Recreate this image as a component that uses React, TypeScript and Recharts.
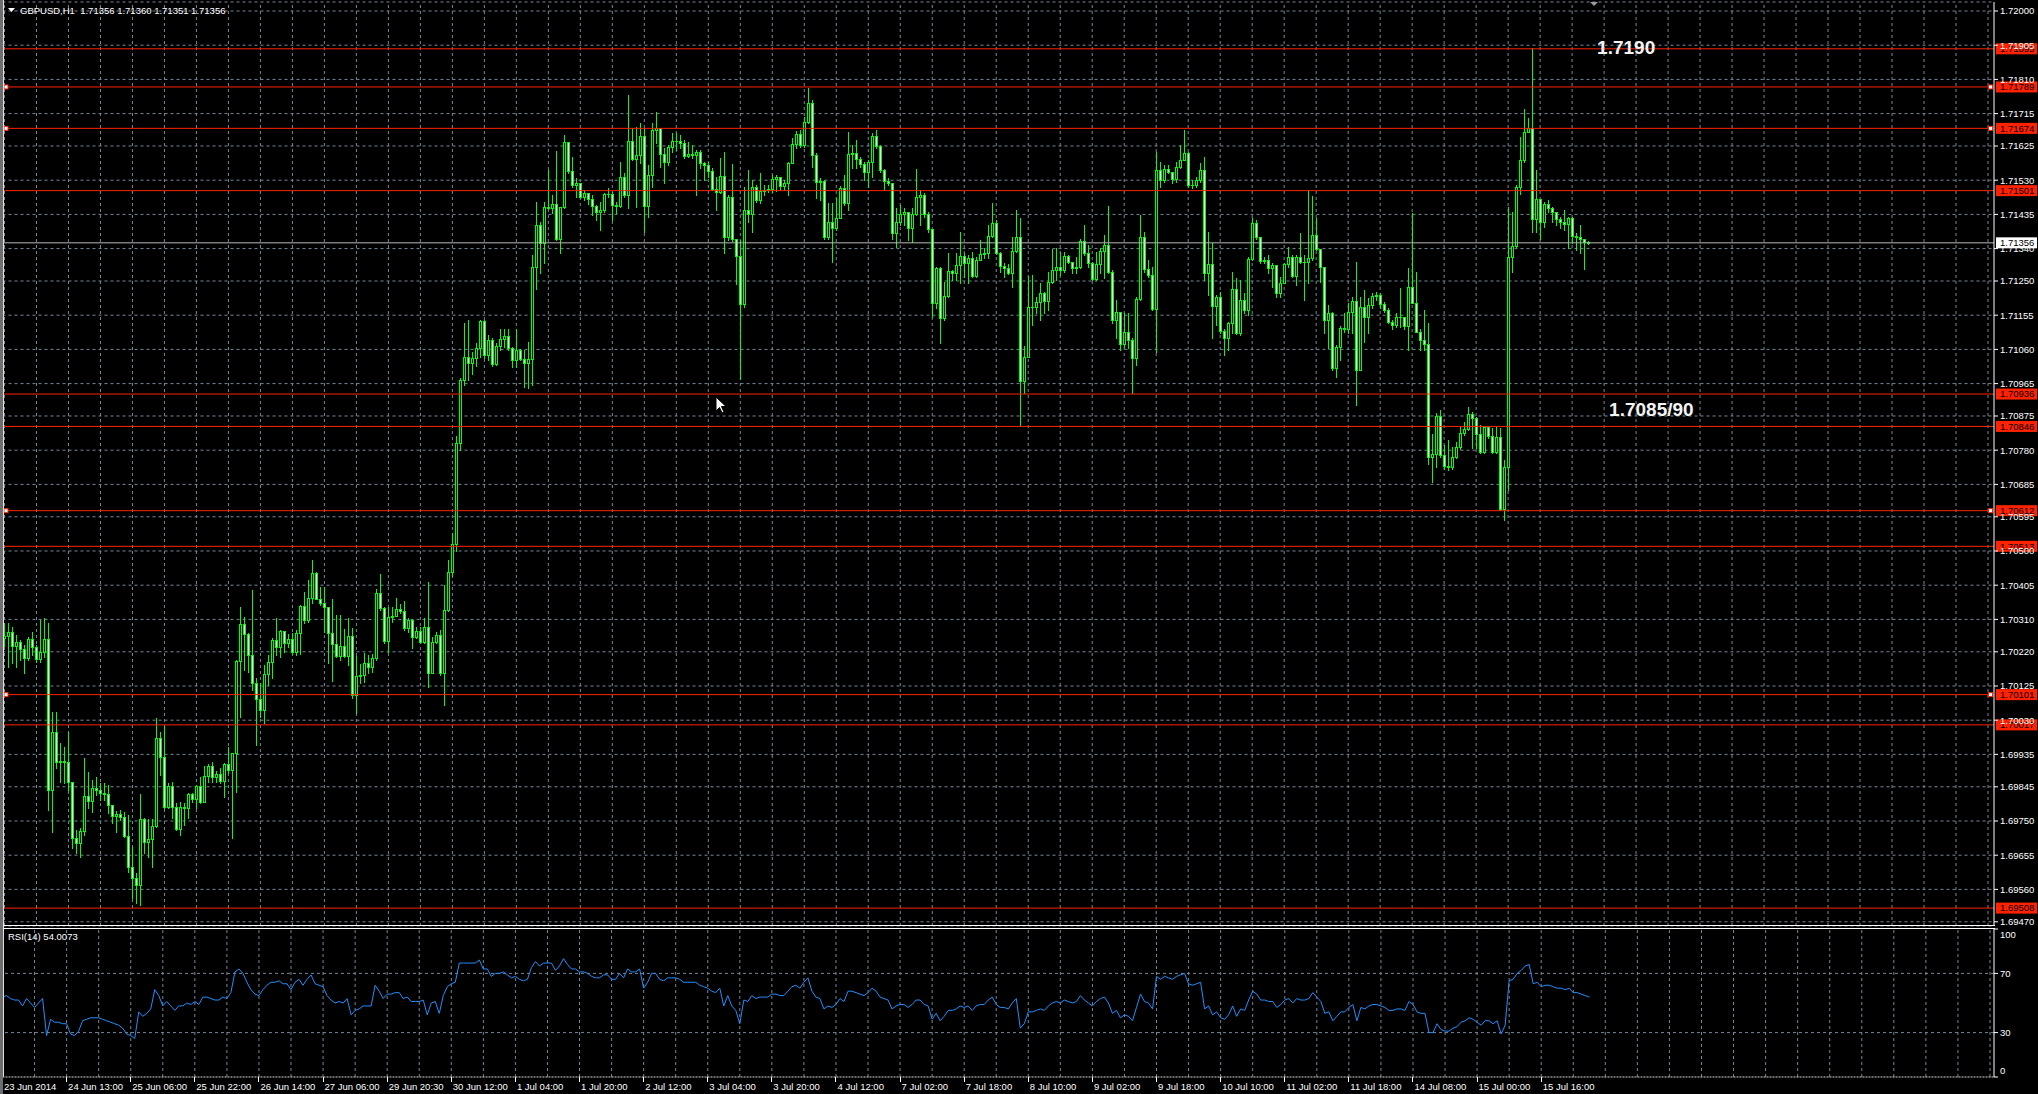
import React from 'react';
import {
    ComposedChart,
    Bar,
    Line,
    XAxis,
    YAxis,
    CartesianGrid,
    ReferenceLine,
    ReferenceDot
} from 'recharts';

const FONT = '"Liberation Sans", Arial, sans-serif';
const GRID = '#778899';
const RED = '#ff2200';
const CANDLE = '#00ff00';

// GBPUSD H1 candles, one per hour
const firstOpen = 1.70258;

const closes = [
    1.70264, 1.70276, 1.70236, 1.70248, 1.70227, 1.70202, 1.70256, 1.70232, 1.70199, 1.70220,
    1.70256, 1.69836, 1.69998, 1.69915, 1.69917, 1.69915, 1.69859, 1.69702, 1.69688, 1.69723,
    1.69819, 1.69806, 1.69841, 1.69836, 1.69829, 1.69824, 1.69794, 1.69764, 1.69769, 1.69762,
    1.69708, 1.69623, 1.69591, 1.69572, 1.69755, 1.69693, 1.69699, 1.69737, 1.69980, 1.69927,
    1.69790, 1.69847, 1.69790, 1.69727, 1.69788, 1.69785, 1.69825, 1.69810, 1.69848, 1.69804,
    1.69875, 1.69904, 1.69873, 1.69881, 1.69862, 1.69907, 1.69892, 1.69938, 1.70194, 1.70296,
    1.70269, 1.70211, 1.70132, 1.70088, 1.70058, 1.70157, 1.70193, 1.70253, 1.70234, 1.70278,
    1.70244, 1.70256, 1.70220, 1.70273, 1.70347, 1.70308, 1.70369, 1.70438, 1.70367, 1.70355,
    1.70345, 1.70273, 1.70242, 1.70208, 1.70236, 1.70208, 1.70264, 1.70100, 1.70153, 1.70156,
    1.70190, 1.70177, 1.70202, 1.70384, 1.70341, 1.70250, 1.70318, 1.70320, 1.70338, 1.70334,
    1.70285, 1.70308, 1.70260, 1.70279, 1.70248, 1.70290, 1.70162, 1.70248, 1.70267, 1.70162,
    1.70336, 1.70441, 1.70520, 1.70800, 1.70975, 1.71038, 1.71023, 1.71035, 1.71063, 1.71140,
    1.71045, 1.71086, 1.71020, 1.71070, 1.71090, 1.71098, 1.71063, 1.71030, 1.71058, 1.71032,
    1.71023, 1.71034, 1.71290, 1.71405, 1.71355, 1.71456, 1.71454, 1.71463, 1.71366, 1.71455,
    1.71637, 1.71555, 1.71516, 1.71523, 1.71482, 1.71495, 1.71479, 1.71458, 1.71441, 1.71446,
    1.71493, 1.71491, 1.71460, 1.71458, 1.71540, 1.71490, 1.71640, 1.71590, 1.71600, 1.71653,
    1.71458, 1.71544, 1.71669, 1.71674, 1.71603, 1.71581, 1.71623, 1.71640, 1.71639, 1.71634,
    1.71597, 1.71602, 1.71599, 1.71608, 1.71577, 1.71572, 1.71556, 1.71505, 1.71498, 1.71542,
    1.71373, 1.71482, 1.71366, 1.71319, 1.71186, 1.71447, 1.71436, 1.71510, 1.71475, 1.71501,
    1.71503, 1.71506, 1.71532, 1.71538, 1.71514, 1.71521, 1.71577, 1.71630, 1.71657, 1.71628,
    1.71693, 1.71744, 1.71600, 1.71525, 1.71527, 1.71373, 1.71413, 1.71398, 1.71424, 1.71509,
    1.71466, 1.71602, 1.71605, 1.71590, 1.71574, 1.71553, 1.71581, 1.71654, 1.71625, 1.71558,
    1.71528, 1.71523, 1.71382, 1.71415, 1.71436, 1.71442, 1.71396, 1.71436, 1.71484, 1.71489,
    1.71436, 1.71395, 1.71190, 1.71285, 1.71146, 1.71209, 1.71277, 1.71271, 1.71295, 1.71320,
    1.71301, 1.71315, 1.71264, 1.71308, 1.71325, 1.71329, 1.71376, 1.71412, 1.71329, 1.71292,
    1.71285, 1.71273, 1.71334, 1.71371, 1.70972, 1.71040, 1.71179, 1.71179, 1.71193, 1.71216,
    1.71194, 1.71248, 1.71281, 1.71290, 1.71281, 1.71319, 1.71302, 1.71285, 1.71290, 1.71362,
    1.71327, 1.71299, 1.71255, 1.71297, 1.71334, 1.71350, 1.71276, 1.71142, 1.71165, 1.71074,
    1.71107, 1.71086, 1.71035, 1.71200, 1.71371, 1.71282, 1.71267, 1.71171, 1.71557, 1.71531,
    1.71560, 1.71552, 1.71533, 1.71566, 1.71586, 1.71606, 1.71516, 1.71517, 1.71531, 1.71557,
    1.71273, 1.71297, 1.71181, 1.71206, 1.71111, 1.71091, 1.71134, 1.71227, 1.71106, 1.71197,
    1.71170, 1.71312, 1.71412, 1.71373, 1.71306, 1.71309, 1.71287, 1.71294, 1.71218, 1.71245,
    1.71297, 1.71318, 1.71265, 1.71316, 1.71303, 1.71304, 1.71315, 1.71378, 1.71338, 1.71290,
    1.71142, 1.71160, 1.71008, 1.71068, 1.71120, 1.71116, 1.71163, 1.71195, 1.71003, 1.71179,
    1.71151, 1.71183, 1.71208, 1.71211, 1.71186, 1.71170, 1.71135, 1.71128, 1.71151, 1.71149,
    1.71125, 1.71234, 1.71190, 1.71109, 1.71086, 1.71075, 1.70762, 1.70770, 1.70875, 1.70767,
    1.70736, 1.70734, 1.70762, 1.70788, 1.70829, 1.70840, 1.70880, 1.70870, 1.70824, 1.70776,
    1.70844, 1.70820, 1.70776, 1.70816, 1.70618, 1.70732, 1.71318, 1.71348, 1.71512, 1.71586,
    1.71663, 1.71674, 1.71421, 1.71478, 1.71414, 1.71464, 1.71452, 1.71443, 1.71423, 1.71414,
    1.71408, 1.71425, 1.71376, 1.71373, 1.71368, 1.71359, 1.71356
];

const highs = [
    1.70299, 1.70299, 1.70290, 1.70267, 1.70253, 1.70239, 1.70262, 1.70276, 1.70239, 1.70308,
    1.70313, 1.70299, 1.70054, 1.70054, 1.69966, 1.69956, 1.69998, 1.69859, 1.69725, 1.69730,
    1.69924, 1.69887, 1.69864, 1.69873, 1.69856, 1.69856, 1.69850, 1.69788, 1.69779, 1.69781,
    1.69776, 1.69767, 1.69679, 1.69605, 1.69825, 1.69757, 1.69755, 1.69755, 1.70035, 1.69998,
    1.70015, 1.69856, 1.69857, 1.69799, 1.69804, 1.69799, 1.69827, 1.69827, 1.69850, 1.69873,
    1.69904, 1.69908, 1.69915, 1.69889, 1.69896, 1.69910, 1.69956, 1.69938, 1.70197, 1.70345,
    1.70318, 1.70271, 1.70392, 1.70146, 1.70132, 1.70183, 1.70211, 1.70257, 1.70313, 1.70281,
    1.70276, 1.70269, 1.70271, 1.70281, 1.70350, 1.70387, 1.70419, 1.70475, 1.70443, 1.70399,
    1.70401, 1.70345, 1.70368, 1.70322, 1.70322, 1.70282, 1.70313, 1.70285, 1.70208, 1.70185,
    1.70216, 1.70211, 1.70214, 1.70394, 1.70436, 1.70345, 1.70345, 1.70345, 1.70369, 1.70352,
    1.70361, 1.70313, 1.70310, 1.70290, 1.70290, 1.70313, 1.70415, 1.70262, 1.70276, 1.70281,
    1.70406, 1.70475, 1.70550, 1.70820, 1.70980, 1.71132, 1.71142, 1.71052, 1.71077, 1.71143,
    1.71142, 1.71100, 1.71091, 1.71077, 1.71118, 1.71118, 1.71118, 1.71068, 1.71118, 1.71060,
    1.71058, 1.71081, 1.71322, 1.71470, 1.71415, 1.71470, 1.71558, 1.71489, 1.71611, 1.71456,
    1.71655, 1.71637, 1.71595, 1.71535, 1.71519, 1.71503, 1.71489, 1.71489, 1.71461, 1.71470,
    1.71495, 1.71507, 1.71498, 1.71470, 1.71581, 1.71549, 1.71767, 1.71674, 1.71679, 1.71688,
    1.71674, 1.71572, 1.71690, 1.71720, 1.71651, 1.71619, 1.71628, 1.71660, 1.71660, 1.71655,
    1.71642, 1.71637, 1.71628, 1.71614, 1.71614, 1.71581, 1.71581, 1.71563, 1.71540, 1.71591,
    1.71609, 1.71489, 1.71575, 1.71368, 1.71364, 1.71512, 1.71558, 1.71530, 1.71517, 1.71549,
    1.71517, 1.71517, 1.71544, 1.71544, 1.71530, 1.71530, 1.71581, 1.71646, 1.71668, 1.71670,
    1.71706, 1.71785, 1.71753, 1.71605, 1.71535, 1.71530, 1.71466, 1.71466, 1.71480, 1.71514,
    1.71544, 1.71665, 1.71628, 1.71642, 1.71595, 1.71581, 1.71586, 1.71660, 1.71670, 1.71627,
    1.71560, 1.71535, 1.71521, 1.71452, 1.71461, 1.71452, 1.71443, 1.71452, 1.71560, 1.71503,
    1.71494, 1.71443, 1.71393, 1.71290, 1.71290, 1.71248, 1.71329, 1.71280, 1.71327, 1.71387,
    1.71329, 1.71322, 1.71331, 1.71318, 1.71364, 1.71341, 1.71406, 1.71466, 1.71419, 1.71331,
    1.71299, 1.71297, 1.71373, 1.71447, 1.71424, 1.71070, 1.71264, 1.71267, 1.71206, 1.71244,
    1.71220, 1.71276, 1.71338, 1.71341, 1.71331, 1.71331, 1.71322, 1.71304, 1.71318, 1.71368,
    1.71406, 1.71350, 1.71304, 1.71331, 1.71341, 1.71378, 1.71457, 1.71281, 1.71197, 1.71165,
    1.71160, 1.71160, 1.71091, 1.71206, 1.71433, 1.71387, 1.71308, 1.71290, 1.71609, 1.71581,
    1.71572, 1.71572, 1.71554, 1.71581, 1.71628, 1.71669, 1.71609, 1.71531, 1.71540, 1.71577,
    1.71595, 1.71387, 1.71355, 1.71211, 1.71220, 1.71118, 1.71137, 1.71276, 1.71257, 1.71253,
    1.71216, 1.71318, 1.71424, 1.71419, 1.71368, 1.71318, 1.71322, 1.71299, 1.71290, 1.71262,
    1.71301, 1.71345, 1.71322, 1.71322, 1.71382, 1.71322, 1.71503, 1.71486, 1.71424, 1.71336,
    1.71290, 1.71183, 1.71165, 1.71072, 1.71125, 1.71160, 1.71188, 1.71206, 1.71304, 1.71206,
    1.71225, 1.71202, 1.71216, 1.71220, 1.71216, 1.71193, 1.71174, 1.71142, 1.71160, 1.71230,
    1.71151, 1.71285, 1.71438, 1.71276, 1.71118, 1.71169, 1.71132, 1.70825, 1.70882, 1.70891,
    1.70794, 1.70808, 1.70790, 1.70804, 1.70845, 1.70859, 1.70901, 1.70887, 1.70873, 1.70850,
    1.70847, 1.70836, 1.70841, 1.70845, 1.70841, 1.70753, 1.71456, 1.71442, 1.71517, 1.71651,
    1.71729, 1.71702, 1.71896, 1.71558, 1.71479, 1.71470, 1.71475, 1.71456, 1.71442, 1.71429,
    1.71447, 1.71429, 1.71429, 1.71382, 1.71406, 1.71366, 1.71360
];

const lows = [
    1.70236, 1.70179, 1.70188, 1.70179, 1.70197, 1.70162, 1.70197, 1.70211, 1.70193, 1.70193,
    1.70206, 1.69781, 1.69720, 1.69896, 1.69859, 1.69855, 1.69836, 1.69674, 1.69660, 1.69651,
    1.69711, 1.69785, 1.69776, 1.69822, 1.69808, 1.69808, 1.69771, 1.69744, 1.69720, 1.69753,
    1.69706, 1.69609, 1.69535, 1.69521, 1.69517, 1.69660, 1.69651, 1.69623, 1.69734, 1.69878,
    1.69785, 1.69785, 1.69757, 1.69725, 1.69711, 1.69739, 1.69757, 1.69804, 1.69785, 1.69799,
    1.69804, 1.69859, 1.69859, 1.69859, 1.69856, 1.69818, 1.69882, 1.69702, 1.69831, 1.70040,
    1.70169, 1.70165, 1.70114, 1.69961, 1.70040, 1.70021, 1.70128, 1.70146, 1.70211, 1.70206,
    1.70220, 1.70234, 1.70214, 1.70211, 1.70214, 1.70299, 1.70304, 1.70355, 1.70366, 1.70350,
    1.70276, 1.70188, 1.70140, 1.70206, 1.70197, 1.70206, 1.70183, 1.70091, 1.70049, 1.70132,
    1.70137, 1.70160, 1.70165, 1.70197, 1.70336, 1.70244, 1.70220, 1.70304, 1.70322, 1.70327,
    1.70281, 1.70276, 1.70230, 1.70257, 1.70244, 1.70245, 1.70123, 1.70160, 1.70245, 1.70156,
    1.70072, 1.70334, 1.70430, 1.70500, 1.70780, 1.70961, 1.70975, 1.70993, 1.71014, 1.71040,
    1.71035, 1.71031, 1.71014, 1.71017, 1.71058, 1.71068, 1.71058, 1.71012, 1.71012, 1.71030,
    1.70956, 1.70952, 1.70961, 1.71229, 1.71271, 1.71299, 1.71449, 1.71438, 1.71364, 1.71329,
    1.71452, 1.71549, 1.71512, 1.71484, 1.71480, 1.71475, 1.71464, 1.71433, 1.71419, 1.71392,
    1.71441, 1.71484, 1.71419, 1.71438, 1.71456, 1.71484, 1.71452, 1.71586, 1.71456, 1.71577,
    1.71387, 1.71429, 1.71512, 1.71632, 1.71566, 1.71521, 1.71572, 1.71609, 1.71614, 1.71619,
    1.71591, 1.71595, 1.71591, 1.71489, 1.71563, 1.71530, 1.71540, 1.71503, 1.71447, 1.71494,
    1.71329, 1.71364, 1.71362, 1.71243, 1.70979, 1.71178, 1.71415, 1.71387, 1.71470, 1.71468,
    1.71489, 1.71498, 1.71498, 1.71501, 1.71503, 1.71503, 1.71489, 1.71577, 1.71619, 1.71623,
    1.71623, 1.71688, 1.71568, 1.71480, 1.71475, 1.71368, 1.71368, 1.71304, 1.71392, 1.71424,
    1.71461, 1.71447, 1.71563, 1.71563, 1.71568, 1.71530, 1.71512, 1.71540, 1.71619, 1.71554,
    1.71503, 1.71517, 1.71368, 1.71345, 1.71405, 1.71405, 1.71364, 1.71359, 1.71433, 1.71405,
    1.71429, 1.71387, 1.71151, 1.71174, 1.71077, 1.71142, 1.71205, 1.71253, 1.71253, 1.71244,
    1.71262, 1.71244, 1.71262, 1.71262, 1.71313, 1.71313, 1.71313, 1.71373, 1.71325, 1.71276,
    1.71262, 1.71270, 1.71234, 1.71331, 1.70850, 1.70938, 1.71042, 1.71128, 1.71160, 1.71142,
    1.71160, 1.71169, 1.71244, 1.71253, 1.71267, 1.71276, 1.71299, 1.71271, 1.71271, 1.71285,
    1.71322, 1.71290, 1.71253, 1.71253, 1.71271, 1.71257, 1.71271, 1.71134, 1.71091, 1.71058,
    1.71068, 1.71063, 1.70940, 1.71017, 1.71197, 1.71276, 1.71262, 1.71170, 1.71054, 1.71512,
    1.71526, 1.71549, 1.71523, 1.71526, 1.71563, 1.71586, 1.71512, 1.71507, 1.71512, 1.71526,
    1.71253, 1.71211, 1.71091, 1.71128, 1.71105, 1.71044, 1.71058, 1.71105, 1.71103, 1.71100,
    1.71160, 1.71156, 1.71308, 1.71368, 1.71301, 1.71299, 1.71271, 1.71234, 1.71206, 1.71206,
    1.71244, 1.71290, 1.71262, 1.71239, 1.71299, 1.71197, 1.71244, 1.71308, 1.71336, 1.71248,
    1.71105, 1.71063, 1.71003, 1.70984, 1.71031, 1.71109, 1.71105, 1.71105, 1.70905, 1.71081,
    1.71081, 1.71105, 1.71174, 1.71197, 1.71174, 1.71165, 1.71132, 1.71118, 1.71123, 1.71123,
    1.71118, 1.71058, 1.71188, 1.71109, 1.71058, 1.71058, 1.70743, 1.70692, 1.70734, 1.70762,
    1.70727, 1.70725, 1.70729, 1.70757, 1.70782, 1.70822, 1.70836, 1.70785, 1.70785, 1.70771,
    1.70771, 1.70813, 1.70773, 1.70771, 1.70614, 1.70586, 1.70669, 1.71276, 1.71345, 1.71493,
    1.71581, 1.71665, 1.71387, 1.71387, 1.71368, 1.71401, 1.71443, 1.71415, 1.71406, 1.71396,
    1.71392, 1.71341, 1.71355, 1.71336, 1.71327, 1.71282, 1.71353
];

// RSI(14), one value per bar
const rsiValues = [
    54, 55, 53, 52, 52, 48, 53, 50, 47, 50,
    53, 28, 39, 37, 37, 36, 36, 29, 28, 31,
    38, 39, 40, 40, 40, 39, 38, 37, 36, 35,
    33, 29, 28, 26, 44, 41, 43, 46, 59, 55,
    48, 51, 48, 45, 48, 48, 50, 49, 51, 49,
    54, 54, 53, 52, 52, 54, 53, 57, 71, 73,
    70, 64, 59, 56, 55, 59, 62, 64, 64, 65,
    63, 63, 59, 64, 66, 62, 66, 69, 63, 62,
    61, 55, 52, 50, 51, 50, 53, 42, 45, 46,
    48, 48, 48, 62, 58, 53, 56, 56, 57, 57,
    53, 54, 51, 51, 51, 52, 42, 50, 51, 43,
    55, 61, 63, 64, 77, 77, 77, 77, 77, 79,
    73, 73, 68, 70, 70, 71, 69, 67, 68, 66,
    65, 66, 74, 78, 75, 77, 77, 77, 72, 75,
    80, 76, 73, 73, 71, 71, 70, 68, 67, 67,
    69, 69, 66, 66, 70, 67, 73, 71, 71, 73,
    60, 64, 70, 70, 66, 65, 67, 67, 67, 66,
    64, 64, 64, 64, 62, 61, 60, 58, 57, 60,
    48, 55, 48, 45, 36, 52, 51, 55, 53, 54,
    54, 54, 56, 56, 55, 55, 58, 61, 62, 60,
    64, 67, 58, 54, 53, 46, 48, 47, 49, 53,
    51, 58, 58, 57, 56, 55, 57, 60, 58, 54,
    53, 52, 46, 48, 49, 49, 47, 49, 52, 52,
    49, 48, 39, 43, 38, 41, 45, 45, 46, 48,
    47, 48, 45, 48, 49, 49, 52, 54, 49, 47,
    47, 46, 50, 53, 33, 36, 44, 44, 45, 46,
    45, 48, 50, 51, 50, 52, 51, 50, 51, 55,
    52, 50, 48, 51, 53, 54, 50, 43, 45, 40,
    42, 41, 38, 47, 56, 51, 50, 46, 68, 66,
    68, 67, 66, 68, 69, 70, 63, 62, 63, 64,
    46, 48, 42, 44, 40, 39, 42, 48, 41, 46,
    45, 52, 58, 56, 52, 52, 51, 51, 47, 49,
    52, 53, 50, 53, 52, 52, 53, 57, 54, 51,
    43, 44, 38, 41, 44, 44, 47, 49, 38, 47,
    46, 48, 49, 49, 48, 47, 45, 45, 46, 46,
    45, 51, 49, 44, 43, 43, 30, 30, 36, 32,
    31, 31, 33, 34, 37, 38, 40, 39, 37, 35,
    38, 38, 36, 38, 29, 35, 65, 66, 70, 72,
    75, 76, 63, 64, 61, 62, 62, 61, 60, 60,
    59, 60, 57, 57, 56, 55, 54
];

// one label every 16 bars
const timeLabels = [
    '23 Jun 2014', '24 Jun 13:00', '25 Jun 06:00', '25 Jun 22:00', '26 Jun 14:00',
    '27 Jun 06:00', '29 Jun 20:30', '30 Jun 12:00', '1 Jul 04:00', '1 Jul 20:00',
    '2 Jul 12:00', '3 Jul 04:00', '3 Jul 20:00', '4 Jul 12:00', '7 Jul 02:00',
    '7 Jul 18:00', '8 Jul 10:00', '9 Jul 02:00', '9 Jul 18:00', '10 Jul 10:00',
    '11 Jul 02:00', '11 Jul 18:00', '14 Jul 08:00', '15 Jul 00:00', '15 Jul 16:00'
];

const priceTicks = [
    1.72, 1.71905, 1.7181, 1.71715, 1.71625, 1.7153, 1.71435, 1.7134, 1.7125, 1.71155,
    1.7106, 1.70965, 1.70875, 1.7078, 1.70685, 1.70595, 1.705, 1.70405, 1.7031, 1.7022,
    1.70125, 1.7003, 1.69935, 1.69845, 1.6975, 1.69655, 1.6956, 1.6947
];

const levels = [1.71895, 1.71789, 1.71674, 1.71501, 1.70936, 1.70846, 1.70612, 1.70513, 1.70101, 1.70017, 1.69508];
const selectedLevels = [1.71789, 1.71674, 1.70612, 1.70101];
const lastPrice = 1.71356;
const lastRsi = '54.0073';

const SLOTS = 498; // bar slots across the window, incl. the empty shift on the right
const W = 2038;
const MAIN_H = 928;
const RSI_H = 166;

const rows = Array.from({ length: SLOTS }, (_, i) => {
    if (i >= closes.length) return { i, hl: null, o: null, h: null, l: null, c: null, rsi: null };
    return {
        i,
        o: i === 0 ? firstOpen : closes[i - 1],
        h: highs[i],
        l: lows[i],
        c: closes[i],
        hl: [lows[i], highs[i]],
        rsi: rsiValues[i]
    };
});

const gridBars = Array.from({ length: Math.ceil(SLOTS / 8) }, (_, k) => k * 8);

const Candle = (props: any) => {
    const { x, y, width, height, payload } = props;
    if (!payload || payload.c == null || height == null || isNaN(height)) return null;
    const top = Math.min(y, y + height);
    const h = Math.abs(height);
    const span = payload.h - payload.l || 1e-6;
    const toY = (v: number) => top + ((payload.h - v) / span) * h;
    const cx = Math.round(x + width / 2);
    const yo = toY(payload.o);
    const yc = toY(payload.c);
    const bTop = Math.round(Math.min(yo, yc));
    const bBot = Math.round(Math.max(yo, yc));
    const wTop = Math.min(Math.round(top), bTop);
    const wBot = Math.max(Math.round(top + h), bBot);
    const bull = payload.c >= payload.o;
    return (
        <g>
            <line x1={cx + 0.5} x2={cx + 0.5} y1={wTop} y2={wBot + 1} stroke={CANDLE} strokeWidth={1} />
            {bBot - bTop < 1 ? (
                <line x1={cx - 1} x2={cx + 2} y1={bTop + 0.5} y2={bTop + 0.5} stroke={CANDLE} strokeWidth={1} />
            ) : (
                <rect
                    x={cx - 0.5}
                    y={bTop + 0.5}
                    width={2}
                    height={bBot - bTop}
                    fill={bull ? '#000' : '#fff'}
                    stroke={CANDLE}
                    strokeWidth={1}
                />
            )}
        </g>
    );
};

const PriceTick = (props: any) => {
    const { x, y, payload } = props;
    return (
        <text x={x} y={y} dy="0.35em" fill="#fff" fontSize={9.5} fontFamily={FONT}>
            {Number(payload.value).toFixed(5)}
        </text>
    );
};

const RsiTick = (props: any) => {
    const { x, y, payload } = props;
    const shift = payload.value === 100 ? 6 : payload.value === 0 ? -6 : 0;
    return (
        <text x={x} y={y + shift} dy="0.35em" fill="#fff" fontSize={9.5} fontFamily={FONT}>
            {payload.value}
        </text>
    );
};

const TimeTick = (props: any) => {
    const { x, y, payload } = props;
    const label = timeLabels[Math.round(payload.value / 16)];
    if (!label || payload.value % 16 !== 0) return null;
    const px = Math.floor(x) + 0.5;
    return (
        <g>
            <line x1={px} x2={px} y1={y} y2={y + 5} stroke="#fff" strokeWidth={1} />
            <text x={x + 1.5} y={y + 13} fill="#fff" fontSize={9.5} fontFamily={FONT}>
                {label}
            </text>
        </g>
    );
};

const LevelTag = (props: any) => {
    const { viewBox, lv, sel } = props;
    if (!viewBox) return null;
    const y = viewBox.y;
    const right = viewBox.x + viewBox.width;
    return (
        <g>
            <rect x={right + 2} y={y - 5.5} width={41} height={11} fill={RED} />
            <text x={right + 6} y={y} dy="0.35em" fill="#000" fontSize={9.5} fontFamily={FONT}>
                {lv.toFixed(5)}
            </text>
            {sel && (
                <>
                    <rect x={viewBox.x + 1.5} y={y - 2} width={4} height={4} fill="#fff" stroke={RED} strokeWidth={1} />
                    <rect x={right - 5.5} y={y - 2} width={4} height={4} fill="#fff" stroke={RED} strokeWidth={1} />
                </>
            )}
        </g>
    );
};

const LastTag = (props: any) => {
    const { viewBox } = props;
    if (!viewBox) return null;
    const y = viewBox.y;
    const right = viewBox.x + viewBox.width;
    return (
        <g>
            <rect x={right + 2} y={y - 5.5} width={41} height={11} fill="#fff" />
            <text x={right + 6} y={y} dy="0.35em" fill="#000" fontSize={9.5} fontFamily={FONT}>
                {lastPrice.toFixed(5)}
            </text>
        </g>
    );
};

const Note = (text: string) => (props: any) => (
    <text
        x={props.cx + 1}
        y={props.cy}
        dy="0.36em"
        fill="#f4f4f4"
        fontSize={19}
        fontWeight="bold"
        fontFamily={FONT}
    >
        {text}
    </text>
);

export default function App() {
    return (
        <div style={{ position: 'fixed', left: 0, top: 0, width: W, height: 1094, background: '#000', overflow: 'hidden' }}>
            <div style={{ position: 'absolute', left: 0, top: 0 }}>
                <ComposedChart width={W} height={MAIN_H} data={rows} margin={{ top: 2, right: 0, bottom: 2, left: 2.5 }}>
                    <CartesianGrid vertical={false} stroke={GRID} strokeDasharray="3 3" />
                    <XAxis dataKey="i" hide />
                    <YAxis
                        orientation="right"
                        type="number"
                        width={44}
                        domain={[1.694583, 1.72025]}
                        allowDataOverflow
                        ticks={priceTicks}
                        interval={0}
                        tick={<PriceTick />}
                        tickSize={4}
                        tickLine={{ stroke: '#fff' }}
                        axisLine={{ stroke: '#fff' }}
                    />
                    {gridBars.map((b) => (
                        <ReferenceLine key={'g' + b} x={b} stroke={GRID} strokeDasharray="3 3" zIndex={-50} />
                    ))}
                    <Bar dataKey="hl" barSize={3} shape={<Candle />} isAnimationActive={false} />
                    {levels.map((lv) => (
                        <ReferenceLine
                            key={'lv' + lv}
                            y={lv}
                            stroke={RED}
                            strokeWidth={1}
                            label={<LevelTag lv={lv} sel={selectedLevels.includes(lv)} />}
                        />
                    ))}
                    <ReferenceLine y={lastPrice} stroke="#b8b8b8" strokeWidth={1} label={<LastTag />} />
                    <ReferenceDot x={398} y={1.71899} r={0} shape={Note('1.7190')} />
                    <ReferenceDot x={401} y={1.70894} r={0} shape={Note('1.7085/90')} />
                </ComposedChart>
            </div>
            <div style={{ position: 'absolute', left: 0, top: MAIN_H }}>
                <ComposedChart width={W} height={RSI_H} data={rows} margin={{ top: 1, right: 0, bottom: 0, left: 2.5 }}>
                    <XAxis
                        dataKey="i"
                        height={17}
                        interval={15}
                        tick={<TimeTick />}
                        tickLine={false}
                        tickSize={0}
                        tickMargin={0}
                        axisLine={{ stroke: '#d8d8d8', strokeDasharray: '2 1' }}
                    />
                    <YAxis
                        orientation="right"
                        type="number"
                        width={44}
                        domain={[0, 100]}
                        ticks={[0, 30, 70, 100]}
                        interval={0}
                        tick={<RsiTick />}
                        tickSize={4}
                        tickLine={{ stroke: '#fff' }}
                        axisLine={{ stroke: '#fff' }}
                    />
                    {gridBars.map((b) => (
                        <ReferenceLine key={'rg' + b} x={b} stroke={GRID} strokeDasharray="3 3" zIndex={-50} />
                    ))}
                    <ReferenceLine y={70} stroke={GRID} strokeDasharray="3 3" />
                    <ReferenceLine y={30} stroke={GRID} strokeDasharray="3 3" />
                    <Line
                        dataKey="rsi"
                        type="linear"
                        stroke="#1e90ff"
                        strokeWidth={1}
                        dot={false}
                        activeDot={false}
                        isAnimationActive={false}
                    />
                </ComposedChart>
            </div>
            <svg width={W} height={1094} style={{ position: 'absolute', left: 0, top: 0, pointerEvents: 'none' }}>
                <rect x={0} y={0} width={3} height={1094} fill="#6e6e6e" />
                <line x1={3.5} x2={3.5} y1={0} y2={1077} stroke="#e0e0e0" strokeWidth={1} />
                <line x1={3} x2={1995} y1={925.5} y2={925.5} stroke="#fff" strokeWidth={1} />
                <line x1={3} x2={1995} y1={928.5} y2={928.5} stroke="#fff" strokeWidth={1} />
                <polygon points="8,8 15,8 11.5,12" fill="#fff" />
                <text x={20} y={11} dy="0.35em" fill="#fff" fontSize={9.5} fontFamily={FONT} style={{ whiteSpace: 'pre' }}>
                    {'GBPUSD,H1  1.71356 1.71360 1.71351 1.71356'}
                </text>
                <text x={8} y={937} dy="0.35em" fill="#fff" fontSize={9.5} fontFamily={FONT}>
                    {'RSI(14) ' + lastRsi}
                </text>
                <polygon points="1590,2 1598,2 1594,6" fill="#9a9a9a" />
                <path
                    d="M716,397 L716,411 L719.5,407.5 L722,413 L724,412 L721.5,406.5 L726,406.5 Z"
                    fill="#fff"
                    stroke="#000"
                    strokeWidth={1}
                />
            </svg>
        </div>
    );
}
